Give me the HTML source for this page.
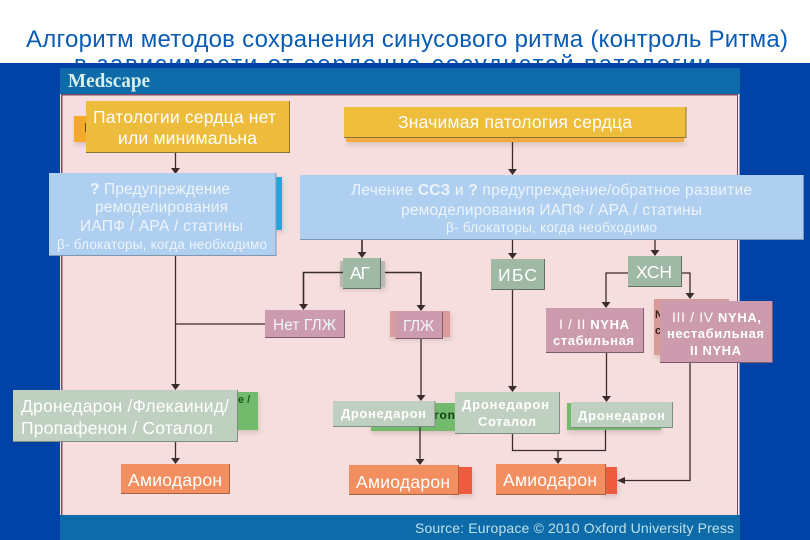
<!DOCTYPE html>
<html><head><meta charset="utf-8"><style>
html,body{margin:0;padding:0;background:#fff;width:810px;height:540px;overflow:hidden}
svg{display:block}
text{font-family:"Liberation Sans",sans-serif}
.w{fill:#fff}
.l{fill:#eef4fb}
.b{font-weight:bold}
.ln{stroke:#3a2c2c;stroke-width:1.3;fill:none}
.a{fill:#3a2c2c}
.soft{filter:drop-shadow(1px 3px 2px rgba(120,80,70,.2))}
.e{fill:none;stroke-width:1}
</style></head><body>
<svg width="810" height="540" viewBox="0 0 810 540" xmlns="http://www.w3.org/2000/svg">
<rect width="810" height="540" fill="#fff"/>
<text x="26" y="47" font-size="24" fill="#0a5cb5" textLength="762" lengthAdjust="spacing">Алгоритм методов сохранения синусового ритма (контроль Ритма)</text>
<text x="74" y="72" font-size="24" fill="#0a5cb5" textLength="637" lengthAdjust="spacing">в зависимости от сердечно-сосудистой патологии</text>
<rect y="63" width="810" height="477" fill="#0042a5"/>
<rect x="60" y="68" width="680" height="472" fill="#0c6ba8"/>
<rect x="60" y="94" width="679.500" height="421" fill="#f0e6ea"/>
<rect x="61" y="94" width="677" height="421" fill="#7a4a66"/>
<rect x="62.500" y="95.500" width="674.500" height="419.500" fill="#f5dedd"/>
<text x="68" y="87" font-size="20" class="b" style="font-family:'Liberation Serif',serif" fill="#d8eeea" textLength="82" lengthAdjust="spacingAndGlyphs">Medscape</text>
<text x="415" y="533" font-size="14" fill="#bfe0ea" textLength="319" lengthAdjust="spacing">Source: Europace © 2010 Oxford University Press</text>

<!-- underlying shapes -->
<g class="soft">
<rect x="74" y="116" width="16" height="26" fill="#f5a928"/>
<rect x="346" y="136" width="338" height="6" fill="#f2ab3c"/>
<rect x="275" y="177" width="7" height="53" fill="#1fa8dc"/>
<rect x="340" y="261" width="45" height="26" fill="#b8b8b8"/>
<rect x="390" y="311" width="60" height="26" fill="#dd9c9c"/>
<rect x="654" y="299" width="75" height="56" fill="#d89c98"/>
<rect x="230" y="392" width="28" height="38" fill="#72bb6c"/>
<rect x="371" y="403" width="89" height="28" fill="#72bb6c"/>
<rect x="567" y="403" width="94" height="27" fill="#72bb6c"/>
<rect x="450" y="467" width="22" height="27" fill="#ee5c40"/>
<rect x="600" y="467" width="17" height="27" fill="#ee5c40"/>
</g>
<text x="84" y="132" font-size="13" fill="#3a2a10">I</text>
<text x="655" y="318" font-size="11" class="b" fill="#3a2020">N</text>
<text x="655" y="334" font-size="11" class="b" fill="#3a2020">c</text>
<text x="238" y="403" font-size="11" class="b" fill="#1c5a1c">e /</text>
<text x="434" y="419" font-size="12" class="b" fill="#123c12" textLength="21">ron</text>

<!-- connectors -->
<g class="ln">
<path d="M175.500 152V168M175.500 255V386M175.500 324H265M175.500 441V460"/>
<path d="M362 239V254M343 272.500H303.500V306M385 272.500H421V307" stroke-width="1.600"/>
<path d="M421 338V397M420 426V461"/>
<path d="M512.500 142V171M512.500 239V255M512.500 289V388M512.500 433V450.500H605.500V430M558 450.500V460"/>
<path d="M655 239V252M628 273H606V304M681 273H690V295M606.500 352V398M690 362V480.500H622"/>
</g>
<g class="a">
<path d="M171 168h9l-4.500 6z"/><path d="M171 384h9l-4.500 6z"/><path d="M171 458h9l-4.500 6z"/>
<path d="M357.500 252h9l-4.500 6z"/><path d="M299 304h9l-4.500 6z"/><path d="M416.500 305h9l-4.500 6z"/>
<path d="M416.500 395h9l-4.500 6z"/><path d="M415.500 459h9l-4.500 6z"/>
<path d="M508 169h9l-4.500 6z"/><path d="M508 253h9l-4.500 6z"/><path d="M508 386h9l-4.500 6z"/>
<path d="M553.500 458h9l-4.500 6z"/><path d="M650.500 250h9l-4.500 6z"/><path d="M601.500 302h9l-4.500 6z"/>
<path d="M685.500 293h9l-4.500 6z"/><path d="M602 396h9l-4.500 6z"/><path d="M617 480.500l8-3.500v7z"/>
</g>

<!-- main boxes -->
<rect x="86" y="101" width="203" height="51" fill="#eebc3c"/>
<rect x="344" y="107" width="341.500" height="30" fill="#efbd3c"/>
<rect x="49" y="173" width="226.500" height="82" fill="#aecfef"/>
<rect x="300" y="175" width="503" height="64" fill="#aecfef"/>
<rect x="343" y="258" width="37" height="30" fill="#9fb9a4"/>
<rect x="491" y="259" width="53" height="30" fill="#9fb9a4"/>
<rect x="628" y="256" width="53" height="30" fill="#9fb9a4"/>
<rect x="265" y="310" width="79" height="27" fill="#cc9cae"/>
<rect x="395.500" y="311.500" width="46.500" height="26.500" fill="#cc9cae"/>
<rect x="546" y="308" width="97" height="44" fill="#cc9cae"/>
<rect x="660" y="301" width="112" height="61" fill="#cc9cae"/>
<rect x="13" y="390" width="224" height="51" fill="#bfcfc0"/>
<rect x="333" y="401" width="101.500" height="25" fill="#bfcfc0"/>
<rect x="455" y="392" width="104" height="41" fill="#bfcfc0"/>
<rect x="571" y="402" width="101" height="25" fill="#bfcfc0"/>
<rect x="121" y="464" width="108" height="29" fill="#f28e60"/>
<rect x="349" y="465" width="109" height="29" fill="#f28e60"/>
<rect x="496" y="464" width="109" height="30" fill="#f28e60"/>

<!-- box bottom and right edges -->
<path class="e" stroke="#8a7238" d="M86 152.500H289.500V101M344 137.500H686V107"/>
<path class="e" stroke="#7f97b5" d="M49 255.500H276V173M300 239.500H803.500V175"/>
<path class="e" stroke="#5f7364" d="M343 288.500H380.500V258M491 289.500H544.500V259M628 286.500H681.500V256"/>
<path class="e" stroke="#7e5a6c" d="M265 337.500H344.500V310M395.500 338.500H442.500V311.500M546 352.500H643.500V308M660 362.500H772.500V301"/>
<path class="e" stroke="#7e8e80" d="M13 441.500H237.500V390M333 426.500H435V401M455 433.500H559.500V392M571 427.500H672.500V402"/>
<path class="e" stroke="#a8623e" d="M121 493.500H229.500V464M349 494.500H458.500V465M496 494.500H605.500V464"/>

<!-- labels -->
<g class="w" font-size="17.500">
<text x="93" y="123" textLength="183" lengthAdjust="spacing">Патологии сердца нет</text>
<text x="118" y="144" textLength="139" lengthAdjust="spacing">или минимальна</text>
<text x="398" y="128" textLength="234" lengthAdjust="spacing">Значимая патология сердца</text>
<text x="350" y="279" textLength="20">АГ</text>
<text x="498" y="281" textLength="39">ИБС</text>
<text x="636" y="278" textLength="36">ХСН</text>
<text x="21" y="412" textLength="208" lengthAdjust="spacing">Дронедарон /Флекаинид/</text>
<text x="21" y="434" textLength="192" lengthAdjust="spacing">Пропафенон / Соталол</text>
<text x="128" y="486" textLength="94" lengthAdjust="spacing">Амиодарон</text>
<text x="356" y="488" textLength="94" lengthAdjust="spacing">Амиодарон</text>
<text x="503" y="486" textLength="94" lengthAdjust="spacing">Амиодарон</text>
</g>
<g class="l" font-size="15.500">
<text x="90" y="194" textLength="140" lengthAdjust="spacing"><tspan class="b">?</tspan> Предупреждение</text>
<text x="95" y="212" textLength="133" lengthAdjust="spacing">ремоделирования</text>
<text x="80" y="231" textLength="163" lengthAdjust="spacing">ИАПФ / АРА / статины</text>
<text x="57" y="249" font-size="13.500" textLength="210" lengthAdjust="spacing">β- блокаторы, когда необходимо</text>
<text x="351" y="195" textLength="401" lengthAdjust="spacing">Лечение <tspan class="b">ССЗ</tspan> и <tspan class="b">?</tspan> предупреждение/обратное развитие</text>
<text x="401" y="215" textLength="301" lengthAdjust="spacing">ремоделирования ИАПФ / АРА / статины</text>
<text x="446" y="232" font-size="13.500" textLength="211" lengthAdjust="spacing">β- блокаторы, когда необходимо</text>
<text x="273" y="330" textLength="63">Нет ГЛЖ</text>
<text x="403" y="331" textLength="31">ГЛЖ</text>
</g>
<g class="w" font-size="13">
<text x="559" y="329" textLength="70"><tspan font-size="14">I / II</tspan> <tspan class="b">NYHA</tspan></text>
<text x="553" y="345" class="b" textLength="81" lengthAdjust="spacing">стабильная</text>
<text x="672" y="322" textLength="89"><tspan font-size="14">III / IV</tspan> <tspan class="b">NYHA,</tspan></text>
<text x="667" y="338" class="b" textLength="97" lengthAdjust="spacing">нестабильная</text>
<text x="690" y="355" class="b" textLength="51" lengthAdjust="spacing">II NYHA</text>
<text x="341" y="418" class="b" textLength="85" lengthAdjust="spacing">Дронедарон</text>
<text x="462" y="409" class="b" textLength="87" lengthAdjust="spacing">Дронедарон</text>
<text x="478" y="426" class="b" textLength="58" lengthAdjust="spacing">Соталол</text>
<text x="578" y="420" class="b" textLength="87" lengthAdjust="spacing">Дронедарон</text>
</g>
</svg>
</body></html>
